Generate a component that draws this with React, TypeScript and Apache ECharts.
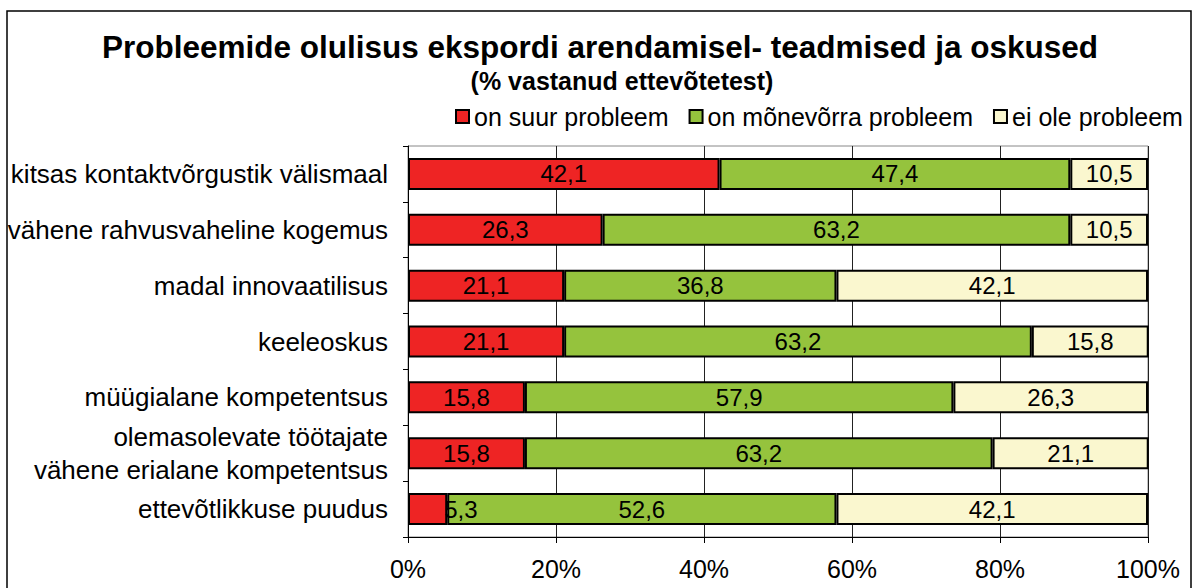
import React, { useEffect, useRef } from "react";
import * as echarts from "echarts";

const categories = [
  "kitsas kontaktvõrgustik välismaal",
  "vähene rahvusvaheline kogemus",
  "madal innovaatilisus",
  "keeleoskus",
  "müügialane kompetentsus",
  "olemasolevate töötajate\nvähene erialane kompetentsus",
  "ettevõtlikkuse puudus",
];
const seriesNames = ["on suur probleem", "on mõnevõrra probleem", "ei ole probleem"];
const bigProblem = [42.1, 26.3, 21.1, 21.1, 15.8, 15.8, 5.3];
const someProblem = [47.4, 63.2, 36.8, 63.2, 57.9, 63.2, 52.6];
const noProblem = [10.5, 10.5, 42.1, 15.8, 26.3, 21.1, 42.1];
const xTicks = [0, 20, 40, 60, 80, 100];
const colors = ["#EE2424", "#95C33D", "#FAF7CF"];

const FONT = "'Liberation Sans', Arial, sans-serif";

export default function App() {
  const ref = useRef<HTMLDivElement>(null);
  useEffect(() => {
    const chart = echarts.init(ref.current!, null, { renderer: "svg" });
    const data = [bigProblem, someProblem, noProblem];
    const fmt = (v: number) => v.toFixed(1).replace(".", ",");
    chart.setOption({
      animation: false,
      backgroundColor: "#fff",
      textStyle: { fontFamily: FONT },
      title: [
        {
          text: "Probleemide olulisus ekspordi arendamisel- teadmised ja oskused",
          left: 595,
          top: 26,
          textAlign: "center",
          textStyle: { fontFamily: FONT, fontSize: 31.5, fontWeight: "bold", color: "#000" },
        },
        {
          text: "(% vastanud ettevõtetest)",
          left: 617,
          top: 63,
          textAlign: "center",
          textStyle: { fontFamily: FONT, fontSize: 25, fontWeight: "bold", color: "#000" },
        },
      ],
      legend: {
        left: 450,
        top: 99,
        itemWidth: 13,
        itemHeight: 13,
        itemGap: 20,
        icon: "rect",
        data: seriesNames,
        textStyle: { fontFamily: FONT, fontSize: 25, color: "#000", padding: [0, 0, 0, 0] },
      },
      grid: {
        left: 408,
        right: 49,
        top: 146,
        bottom: 51,
        show: true,
        borderColor: "#888",
        borderWidth: 1,
      },
      xAxis: {
        type: "value",
        min: 0,
        max: 100,
        interval: 20,
        axisLine: { show: true, lineStyle: { color: "#000", width: 1 } },
        axisTick: { show: true, length: 6, lineStyle: { color: "#000" } },
        splitLine: { show: true, lineStyle: { color: "#222", width: 1 } },
        axisLabel: {
          formatter: (v: number) => (xTicks.includes(v) ? v + "%" : ""),
          fontFamily: FONT,
          fontSize: 25,
          color: "#000",
          margin: 19,
        },
      },
      yAxis: {
        type: "category",
        data: categories,
        inverse: true,
        axisLine: { show: true, lineStyle: { color: "#000", width: 1 } },
        axisTick: { show: true, length: 5, inside: false, lineStyle: { color: "#000" } },
        axisLabel: {
          fontFamily: FONT,
          fontSize: 26,
          color: "#000",
          margin: 20,
          lineHeight: 33,
        },
      },
      graphic: [
        {
          type: "rect",
          shape: { x: 7, y: 11, width: 1184, height: 600 },
          style: { fill: "none", stroke: "#000", lineWidth: 1.5 },
          silent: true,
          z: 100,
        },
      ],
      series: seriesNames.map((name, i) => ({
        name,
        type: "bar",
        stack: "total",
        barWidth: 32,
        data: data[i].map((v) =>
          v < 8
            ? { value: v, label: { position: "right", distance: -3 } }
            : v
        ),
        itemStyle: { color: colors[i], borderColor: "#000", borderWidth: 2 },
        label: {
          show: true,
          position: "inside",
          formatter: (p: any) => fmt(Number(p.value)),
          fontFamily: FONT,
          fontSize: 24,
          color: "#000",
        },
      })),
    });
    return () => chart.dispose();
  }, []);
  return (
    <div
      ref={ref}
      style={{ position: "fixed", left: 0, top: 0, width: 1197, height: 588 }}
    />
  );
}
